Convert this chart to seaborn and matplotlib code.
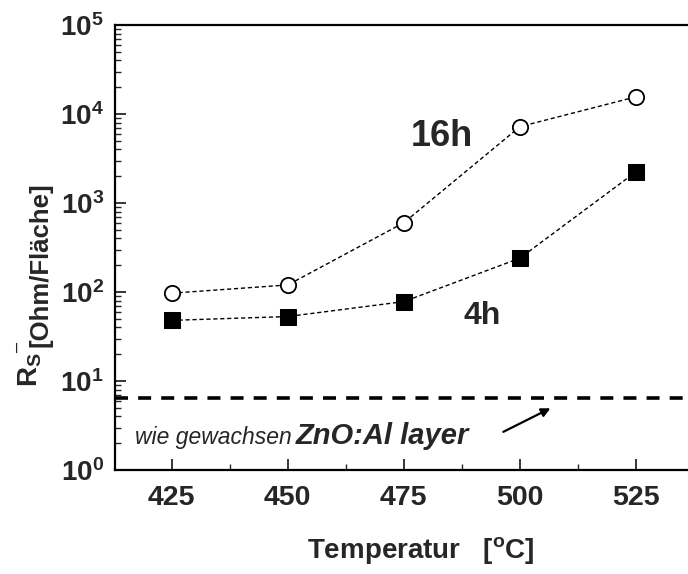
import numpy as np
import pandas as pd
import matplotlib
matplotlib.use("Agg")
import matplotlib.pyplot as plt
import seaborn as sns
from matplotlib.ticker import LogLocator, FixedLocator, NullFormatter

# Data
temperatures = [425, 450, 475, 500, 525]
rs_16h = [97, 120, 600, 7200, 15600]
rs_4h = [48, 53, 78, 240, 2240]
as_grown_rs = 6.5

x_ticks = [425, 450, 475, 500, 525]
x_minor = [437.5, 462.5, 487.5, 512.5]
y_ticks = [1, 10, 100, 1000, 10000, 100000]
y_tick_labels = [r'$\mathbf{10^{0}}$', r'$\mathbf{10^{1}}$', r'$\mathbf{10^{2}}$',
                 r'$\mathbf{10^{3}}$', r'$\mathbf{10^{4}}$', r'$\mathbf{10^{5}}$']

df = pd.DataFrame({
    'Temperatur': temperatures * 2,
    'Rs': rs_16h + rs_4h,
    'Dauer': ['16h'] * 5 + ['4h'] * 5,
})

sns.set_style("ticks")
plt.rcParams['font.family'] = ['Liberation Sans', 'DejaVu Sans']
plt.rcParams['mathtext.fontset'] = 'custom'
plt.rcParams['mathtext.rm'] = 'Liberation Sans'
plt.rcParams['mathtext.bf'] = 'Liberation Sans:bold'
plt.rcParams['mathtext.it'] = 'Liberation Sans:italic'

fig = plt.figure(figsize=(6.88, 5.74), dpi=100)
ax = fig.add_axes([115 / 688, 104 / 574, 573 / 688, 445 / 574])

sns.lineplot(data=df, x='Temperatur', y='Rs', hue='Dauer', style='Dauer',
             palette={'16h': 'black', '4h': 'black'},
             markers={'16h': 'o', '4h': 's'}, dashes={'16h': (3, 2), '4h': (3, 2)},
             markersize=11, linewidth=1.0, legend=False, ax=ax)

# marker faces: open circles, filled squares
for line in ax.lines:
    if line.get_marker() == 'o':
        line.set_markerfacecolor('white')
        line.set_markeredgecolor('black')
        line.set_markeredgewidth(1.3)
    else:
        line.set_markerfacecolor('black')
        line.set_markeredgecolor('black')

ax.axhline(as_grown_rs, color='black', linewidth=2.6, dashes=(3.6, 2.8))

ax.set_yscale('log')
ax.set_ylim(1, 1e5)
ax.set_xlim(412.8, 536.2)

ax.set_xticks(x_ticks)
ax.set_xticklabels([str(t) for t in x_ticks], fontsize=20.5, fontweight='bold')
ax.xaxis.set_minor_locator(FixedLocator(x_minor))
ax.set_yticks(y_ticks)
ax.set_yticklabels(y_tick_labels, fontsize=20)
ax.yaxis.set_minor_locator(LogLocator(base=10, subs=np.arange(2, 10)))
ax.yaxis.set_minor_formatter(NullFormatter())

ax.tick_params(which='major', direction='in', length=8, width=1.3)
ax.tick_params(which='minor', direction='in', length=4, width=1.0)
ax.tick_params(axis='x', which='major', pad=11)
ax.tick_params(axis='y', which='major', pad=8)

for side in ['left', 'bottom', 'top']:
    ax.spines[side].set_linewidth(1.6)
    ax.spines[side].set_color('black')
ax.spines['right'].set_visible(False)

ax.set_xlabel('')
ax.set_ylabel('')

# series labels
ax.text(483.2, 5650, '16h', fontsize=26, fontweight='bold', ha='center', va='center')
ax.text(491.8, 54, '4h', fontsize=23, fontweight='bold', ha='center', va='center')

# as-grown annotation
ax.text(417.2, 1.96, 'wie gewachsen', fontsize=16.5, style='italic',
        ha='left', va='baseline')
ax.text(451.7, 1.96, 'ZnO:Al layer', fontsize=21, style='italic', fontweight='bold',
        ha='left', va='baseline')
ax.annotate('', xy=(507.1, 5.1), xytext=(495.9, 2.6),
            arrowprops=dict(arrowstyle='-|>', color='black', lw=1.6,
                            mutation_scale=13))

# axis titles
fig.text(421 / 688, 1 - 550 / 574, r'Temperatur   [$^{\mathbf{o}}$C]',
         fontsize=20, fontweight='bold', ha='center', va='center')
fig.text(30 / 688, 1 - 370 / 574, r'$\mathbf{R_S}$', fontsize=20, rotation=90,
         ha='center', va='center')
fig.text(17 / 688, 1 - 347 / 574, '–', fontsize=13, rotation=90,
         ha='center', va='center')
fig.text(41 / 688, 1 - 265 / 574, '[Ohm/Fläche]', fontsize=18.5, fontweight='bold',
         rotation=90, ha='center', va='center')

fig.savefig('out.png', dpi=100)
